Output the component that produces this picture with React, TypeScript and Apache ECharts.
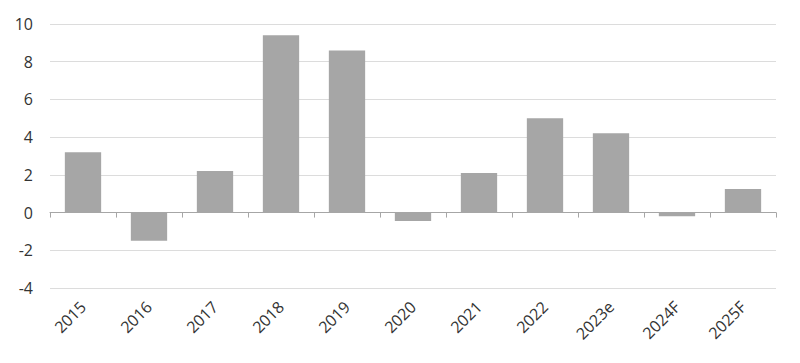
import React, { useEffect, useRef } from "react";
import * as echarts from "echarts";

const categories = ["2015", "2016", "2017", "2018", "2019", "2020", "2021", "2022", "2023e", "2024F", "2025F"];
const values = [3.2, -1.5, 2.2, 9.4, 8.6, -0.45, 2.1, 5.0, 4.2, -0.2, 1.25];
const yMin = -4;
const yMax = 10;
const yInterval = 2;

export default function App() {
  const ref = useRef<HTMLDivElement>(null);
  useEffect(() => {
    if (!ref.current) return;
    const chart = echarts.init(ref.current, undefined, { renderer: "svg" });
    const font = "'Open Sans', 'Noto Sans', sans-serif";
    chart.setOption({
      animation: false,
      grid: { left: 50, right: 24, top: 24, bottom: 75, containLabel: false },
      xAxis: [
        {
          type: "category",
          data: categories,
          position: "bottom",
          axisLine: { show: false, onZero: false },
          axisTick: { show: false },
          axisLabel: {
            rotate: 45,
            margin: 16,
            interval: 0,
            color: "#333333",
            fontSize: 16,
            fontFamily: font,
          },
        },
        {
          type: "category",
          data: categories,
          position: "top",
          axisLine: { show: true, onZero: true, lineStyle: { color: "#a6a6a6", width: 1 } },
          axisTick: { show: true, inside: true, length: 5, lineStyle: { color: "#a6a6a6" } },
          axisLabel: { show: false },
        },
      ],
      yAxis: {
        type: "value",
        min: yMin,
        max: yMax,
        interval: yInterval,
        axisLine: { show: false },
        axisTick: { show: false },
        splitLine: { lineStyle: { color: "#dcdcdc", width: 1 } },
        axisLabel: { color: "#333333", fontSize: 16, fontFamily: font, margin: 17 },
      },
      series: [
        {
          type: "bar",
          data: values,
          barWidth: "55%",
          itemStyle: { color: "#a6a6a6" },
        },
      ],
    });
    return () => chart.dispose();
  }, []);
  return <div ref={ref} style={{ width: 800, height: 363, position: "absolute", left: 0, top: 0 }} />;
}
